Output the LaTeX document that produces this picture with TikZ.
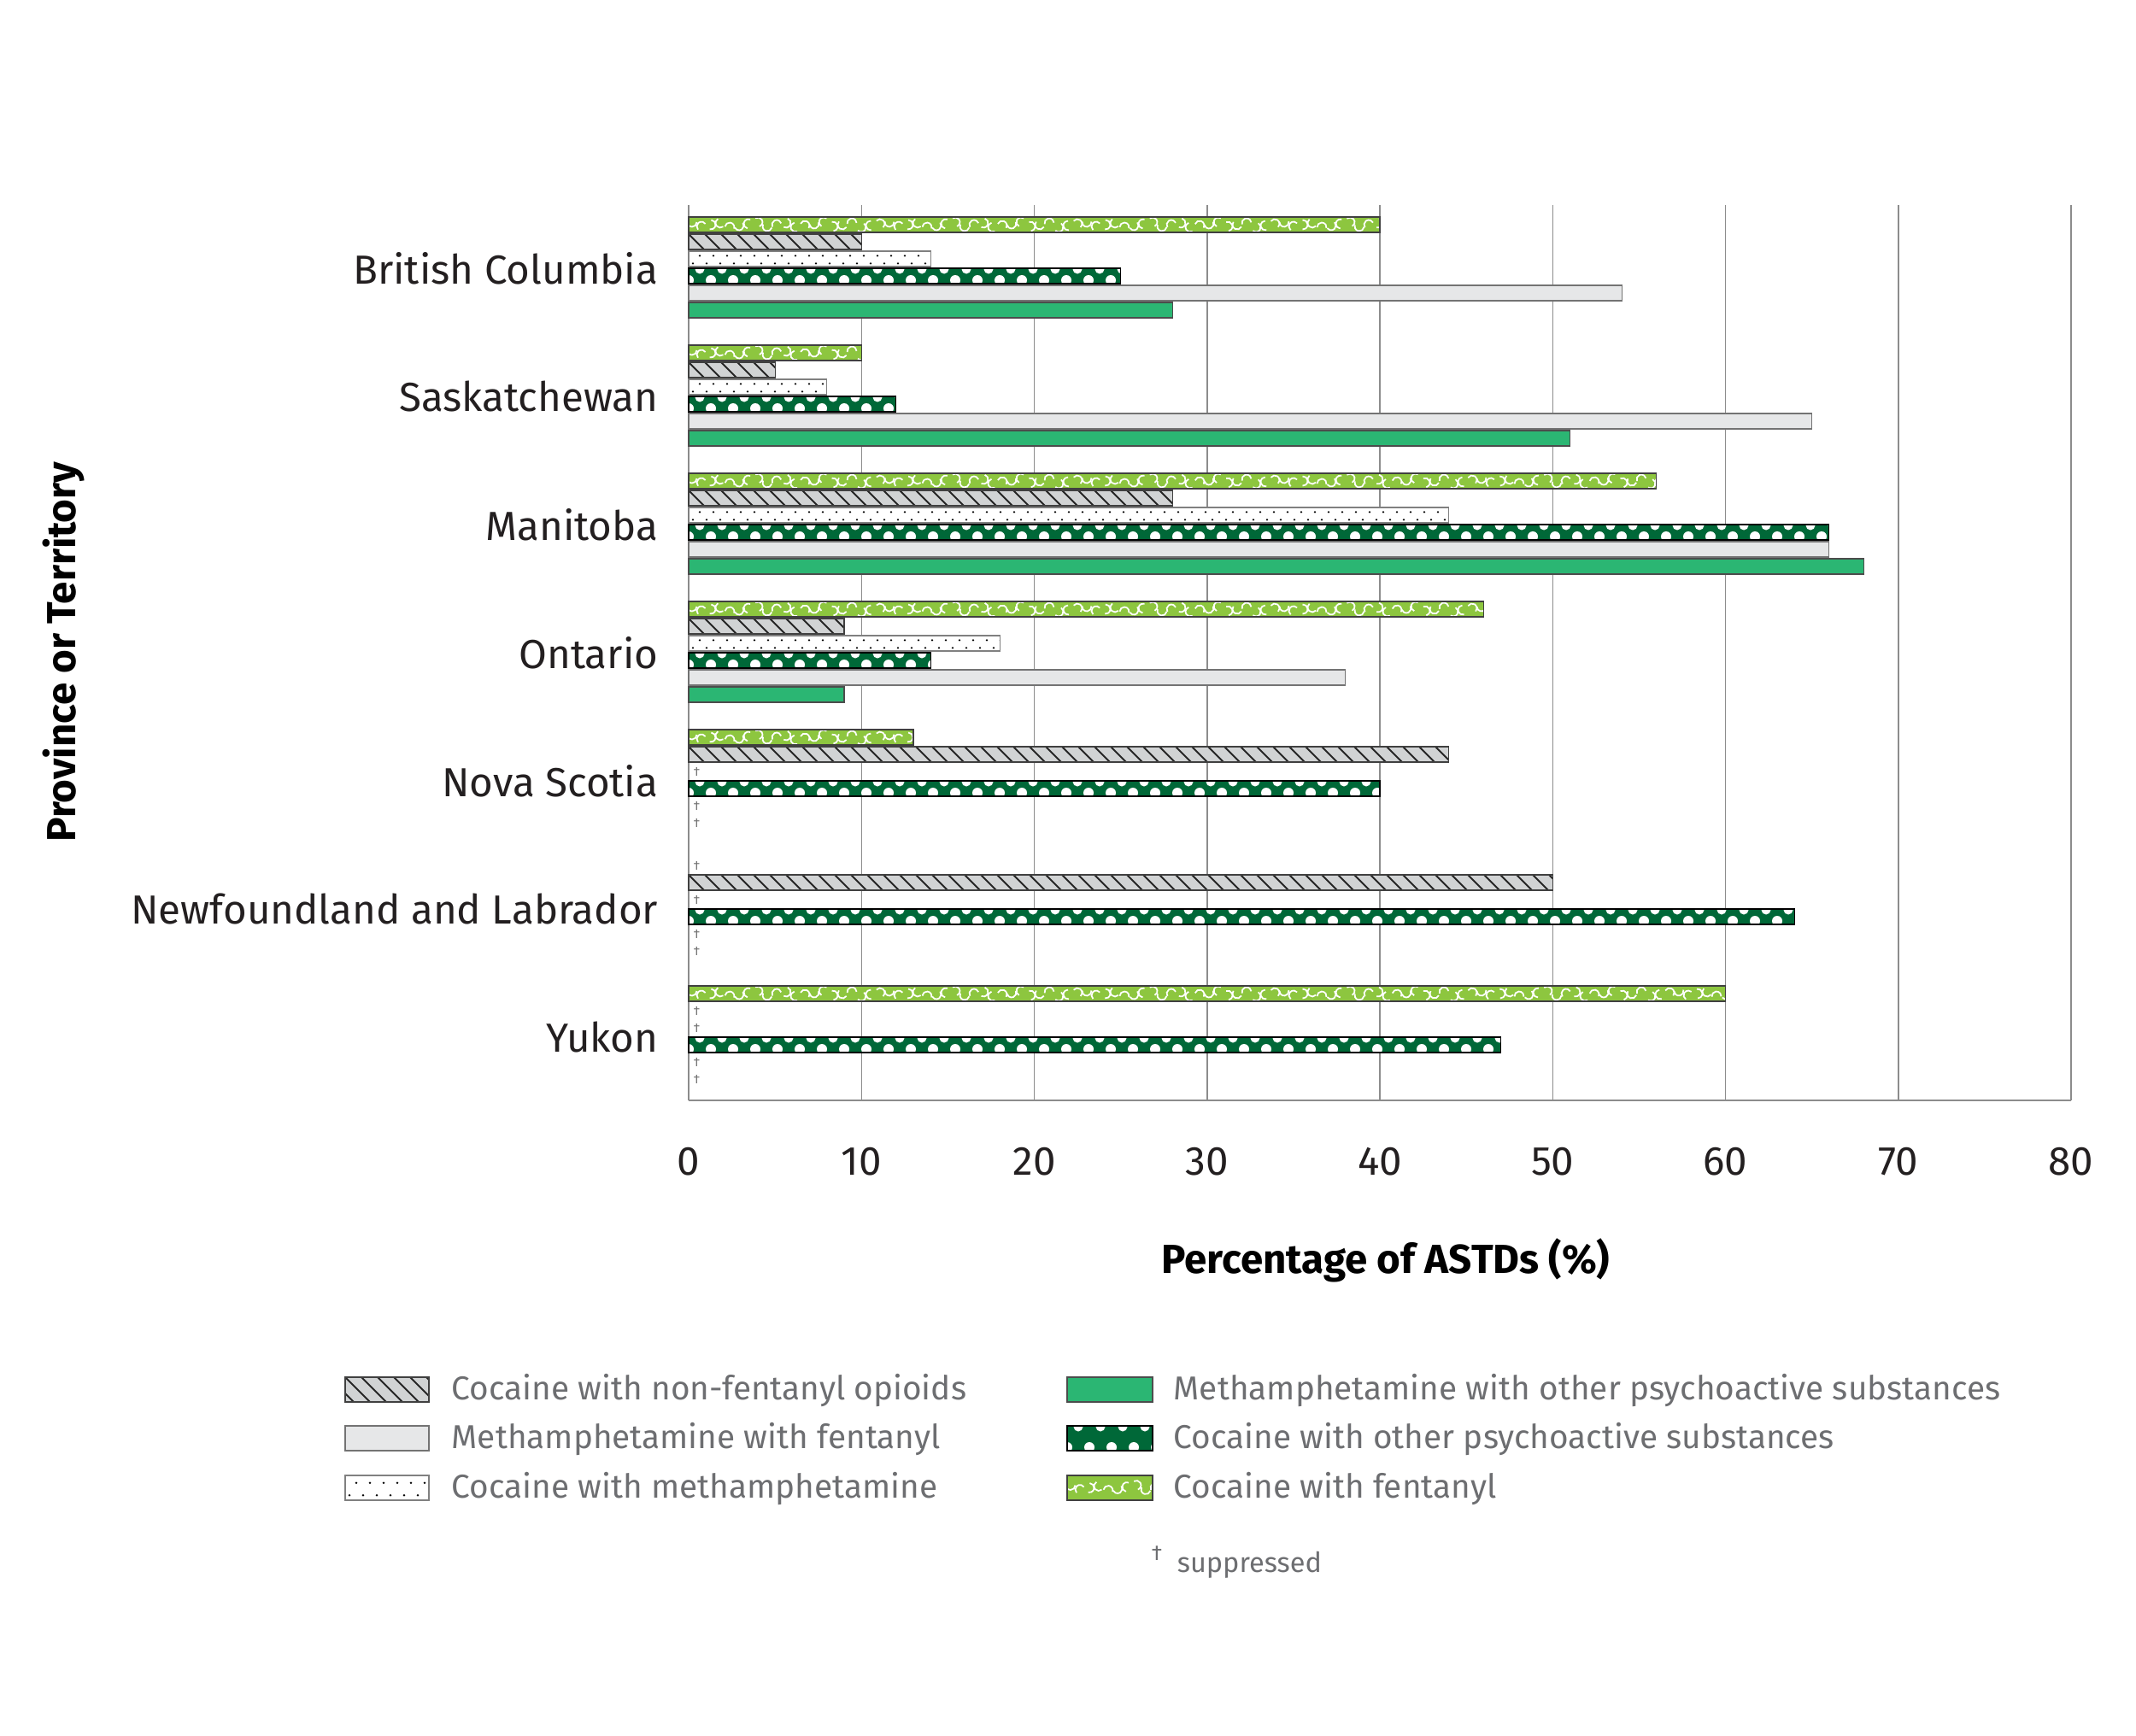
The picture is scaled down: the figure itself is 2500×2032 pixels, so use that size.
\documentclass[tikz,border=0pt]{standalone}
\usepackage{fontspec}
\setmainfont{Fira Sans}
\begin{document}
\begin{tikzpicture}[x=0.4pt,y=-0.4pt]
\definecolor{lgreen}{HTML}{8DC63F}
\definecolor{dgreen}{HTML}{006838}
\definecolor{mgreen}{HTML}{2BB673}
\definecolor{lgray}{HTML}{E6E7E8}
\definecolor{hgray}{HTML}{D1D3D4}
\definecolor{txt}{HTML}{231F20}
\definecolor{legtxt}{HTML}{6D6E71}
\tikzset{barline/.style={draw=black!75,line width=0.45pt},
 grid/.style={draw=black!45,line width=0.6pt},
 prov/.style={anchor=east,text=txt,font=\fontsize{19}{22}\selectfont\light},
 tick/.style={anchor=center,text=txt,font=\fontsize{19}{22}\selectfont\light},
 leg/.style={anchor=west,text=legtxt,font=\fontsize{15.5}{18}\selectfont\light},
 dag/.style={text=black!55,font=\fontsize{6}{7}\selectfont,anchor=west,inner sep=0pt}}
\newcommand\light{\addfontfeatures{}}
% bar macros: x, y(top), width, height
\newcommand\fentbar[4]{%
 \fill[lgreen] (#1,#2) rectangle ++(#3,#4);
 \begin{scope}
 \clip (#1,#2) rectangle ++(#3,#4);
 \pgfmathtruncatemacro\nn{#3/11+1}
 \foreach \i in {0,...,\nn}{%
  \pgfmathsetmacro\aa{mod(\i*137,360)}
  \pgfmathsetmacro\yy{#2+#4/2+mod(\i*5,7)-3}
  \draw[white,line width=0.7pt] (#1+11*\i+4,\yy) ++(\aa:5.5) arc[start angle=\aa,end angle=\aa+190,radius=5.5];
 }
 \end{scope}
 \draw[barline] (#1,#2) rectangle ++(#3,#4);}
\newcommand\hatchbar[4]{%
 \fill[hgray] (#1,#2) rectangle ++(#3,#4);
 \begin{scope}
 \clip (#1,#2) rectangle ++(#3,#4);
 \pgfmathtruncatemacro\nn{#3/19+2}
 \foreach \i in {-1,...,\nn}{%
  \draw[black!85,line width=0.8pt] (#1+19*\i,#2) -- ++(#4,#4);
 }
 \end{scope}
 \draw[barline] (#1,#2) rectangle ++(#3,#4);}
\newcommand\dotbar[4]{%
 \fill[white] (#1,#2) rectangle ++(#3,#4);
 \begin{scope}
 \clip (#1,#2) rectangle ++(#3,#4);
 \pgfmathtruncatemacro\nn{#3/16+1}
 \foreach \i in {0,...,\nn}{%
  \fill[black] (#1+13+16*\i,#2+#4*0.3) circle[radius=1.3];
  \fill[black] (#1+5+16*\i,#2+#4*0.8) circle[radius=1.3];
 }
 \end{scope}
 \draw[barline,draw=black!50] (#1,#2) rectangle ++(#3,#4);}
\newcommand\polkabar[4]{%
 \fill[dgreen] (#1,#2) rectangle ++(#3,#4);
 \begin{scope}
 \clip (#1,#2) rectangle ++(#3,#4);
 \pgfmathtruncatemacro\nn{#3/26+1}
 \foreach \i in {0,...,\nn}{%
  \fill[white] (#1+26*\i+13,#2+1) circle[radius=5.5];
  \fill[white] (#1+26*\i,#2+#4-4) circle[radius=6];
 }
 \end{scope}
 \draw[barline,draw=black] (#1,#2) rectangle ++(#3,#4);}
\newcommand\graybar[4]{\filldraw[fill=lgray,barline,draw=black!55] (#1,#2) rectangle ++(#3,#4);}
\newcommand\greenbar[4]{\filldraw[fill=mgreen,barline,draw=black!70] (#1,#2) rectangle ++(#3,#4);}

\useasboundingbox (0,0) rectangle (2500,2032);
% grid
\foreach \v in {0,10,...,80}{\draw[grid] (806+20.225*\v,240) -- (806+20.225*\v,1288);
 \node[tick] (t\v) at (806+20.225*\v,1360) {\v};}
\draw[grid] (806,1288) -- (2424,1288);

% data: group index, values (fent, hatch, dots, polka, gray, green); -1 = suppressed
\foreach \g/\name/\a/\b/\c/\d/\e/\f in {
 0/British Columbia/40/10/14/25/54/28,
 1/Saskatchewan/10/5/8/12/65/51,
 2/Manitoba/56/28/44/66/66/68,
 3/Ontario/46/9/18/14/38/9,
 4/Nova Scotia/13/44/-1/40/-1/-1,
 5/Newfoundland and Labrador/-1/50/-1/64/-1/-1,
 6/Yukon/60/-1/-1/47/-1/-1}{%
 \pgfmathsetmacro\y{254+150*\g}
 \node[prov] (p\g) at (779,\y+60) {\name};
 \foreach \v/\k in {\a/0,\b/1,\c/2,\d/3,\e/4,\f/5}{%
  \pgfmathsetmacro\yb{\y+20*\k}
  \pgfmathsetmacro\w{20.225*\v}
  \ifdim\v pt<0pt
   \node[dag] at (811,\yb+9) {†};
  \else
   \ifcase\k \fentbar{806}{\yb}{\w}{18}\or \hatchbar{806}{\yb}{\w}{18}\or \dotbar{806}{\yb}{\w}{18}\or
   \polkabar{806}{\yb}{\w}{18}\or \graybar{806}{\yb}{\w}{18}\or \greenbar{806}{\yb}{\w}{18}\fi
  \fi
 }
}
\node[text=black,font=\fontsize{19}{22}\selectfont\bfseries] (xt) at (1622,1475) {Percentage of ASTDs (\%)};
\node[text=black,font=\fontsize{19}{22}\selectfont\bfseries,rotate=90] (yt) at (75,763) {Province or Territory};

% legend
\hatchbar{404}{1612}{98}{29}\node[leg] (l1) at (520,1627) {Cocaine with non-fentanyl opioids};
\graybar{404}{1669}{98}{29}\node[leg] (l2) at (520,1684) {Methamphetamine with fentanyl};
\dotbar{404}{1727}{98}{29}\node[leg] (l3) at (520,1742) {Cocaine with methamphetamine};
\greenbar{1249}{1612}{100}{29}\node[leg] (l4) at (1365,1627) {Methamphetamine with other psychoactive substances};
\polkabar{1249}{1669}{100}{29}\node[leg] (l5) at (1365,1684) {Cocaine with other psychoactive substances};
\fentbar{1249}{1727}{100}{29}\node[leg] (l6) at (1365,1742) {Cocaine with fentanyl};
\node[text=legtxt,font=\fontsize{10}{12}\selectfont] (dg) at (1354,1818) {†};
\node[leg,font=\fontsize{13}{15}\selectfont] (sp) at (1369,1832) {suppressed};
\end{tikzpicture}
\end{document}
